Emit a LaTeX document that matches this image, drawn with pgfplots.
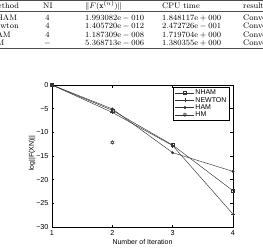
\documentclass[border=0pt]{standalone}
\usepackage{fontspec}
\usepackage{pgfplots}
\pgfplotsset{compat=1.18}
\newfontfamily\hv{Liberation Sans}

% open six-pointed star used for the HM marker
\pgfdeclareplotmark{hexagram}{%
  \pgfpathmoveto{\pgfpointpolar{90}{\pgfplotmarksize}}%
  \pgfpathlineto{\pgfpointpolar{210}{\pgfplotmarksize}}%
  \pgfpathlineto{\pgfpointpolar{330}{\pgfplotmarksize}}%
  \pgfpathclose
  \pgfpathmoveto{\pgfpointpolar{270}{\pgfplotmarksize}}%
  \pgfpathlineto{\pgfpointpolar{30}{\pgfplotmarksize}}%
  \pgfpathlineto{\pgfpointpolar{150}{\pgfplotmarksize}}%
  \pgfpathclose
  \pgfusepathqstroke}

\begin{document}
\begin{tikzpicture}[x=1pt,y=1pt]
\useasboundingbox (0,0) rectangle (263,250);
\clip (0,0) rectangle (263,250);

% ---- results table ----
\begin{scope}[every node/.style={anchor=base west,inner sep=0pt,font=\fontsize{8}{9}\selectfont}]
\draw[line width=0.8pt,black!70] (-20,249.6) -- (290,249.6);
\node at (-10,241.5) {Method};
\node at (43,241.5) {NI};
\node at (85,241.5) {$\|F(\mathbf{x}^{(n)})\|$};
\node at (162,241.5) {CPU time};
\node at (243,241.5) {result};
\draw[line width=0.45pt,black!70] (-20,238.8) -- (290,238.8);
% rows
\node at (-10,230) {NHAM};
\node[anchor=base] at (47.5,230) {4};
\node at (85,230) {1.993082e${}-{}$010};
\node at (162,230) {1.848117e${}+{}$000};
\node at (243,230) {Convergent};
\node at (-10,221.4) {Newton};
\node[anchor=base] at (47.5,221.4) {4};
\node at (85,221.4) {1.405720e${}-{}$012};
\node at (162,221.4) {2.472726e${}-{}$001};
\node at (243,221.4) {Convergent};
\node at (-10,212.8) {HAM};
\node[anchor=base] at (47.5,212.8) {4};
\node at (85,212.8) {1.187309e${}-{}$008};
\node at (162,212.8) {1.719704e${}+{}$000};
\node at (243,212.8) {Convergent};
\node at (-10,204.2) {HM};
\node[anchor=base] at (47.5,204.2) {$-$};
\node at (85,204.2) {5.368713e${}-{}$006};
\node at (162,204.2) {1.380355e${}+{}$000};
\node at (243,204.2) {Convergent};
\draw[line width=0.8pt,black!70] (-20,201.6) -- (290,201.6);
\end{scope}

% ---- convergence plot ----
\begin{axis}[
  at={(52pt,23pt)}, anchor=south west,
  scale only axis, width=181pt, height=142pt,
  xmin=1, xmax=4, ymin=-30, ymax=0,
  xtick={1,2,3,4},
  xticklabels={1,2,3,4},
  ytick={-30,-25,-20,-15,-10,-5,0},
  yticklabels={−30,−25,−20,−15,−10,−5,0},
  tick align=inside,
  major tick length=2.5pt,
  axis line style={line width=0.6pt,black},
  tick style={line width=0.4pt,black},
  ticklabel style={font=\hv\fontsize{7.2}{8}\selectfont},
  xlabel={Number of Iteration},
  ylabel={log||F(XN)||},
  label style={font=\hv\fontsize{7}{8}\selectfont},
  xlabel style={at={(axis description cs:0.5,0)},anchor=center,yshift=-14.7pt},
  ylabel style={at={(axis description cs:-0.1105,0.52)},anchor=center},
  every axis plot/.append style={line width=0.45pt,black!80},
  legend style={at={(1,1)},anchor=north east,xshift=-4pt,yshift=-2.3pt,
    font=\hv\fontsize{7}{8}\selectfont,draw=black,line width=0.5pt,
    inner sep=1.5pt,row sep=-0.5pt,
    nodes={inner sep=0.8pt,text height=5pt,text depth=1.2pt}},
  legend cell align=left,
  legend image code/.code={%
    \draw[mark repeat=2,mark phase=2,#1] plot coordinates {(0pt,0pt) (9.5pt,0pt) (19pt,0pt)};},
]
\addplot[mark=square, mark size=1.6pt] coordinates {(1,0) (2,-5.35) (3,-12.7) (4,-22.34)};
\addlegendentry{NHAM}
\addplot[mark=+, mark size=2pt] coordinates {(1,0) (2,-5.8) (3,-12.8) (4,-27.29)};
\addlegendentry{NEWTON}
\addplot[mark=*, mark size=1.2pt] coordinates {(1,0) (2,-5.05) (3,-14.3) (4,-18.25)};
\addlegendentry{HAM}
\addplot[mark=hexagram, mark size=1.8pt] coordinates {(2,-12.13)};
\addlegendentry{HM}
\end{axis}
\end{tikzpicture}
\end{document}
